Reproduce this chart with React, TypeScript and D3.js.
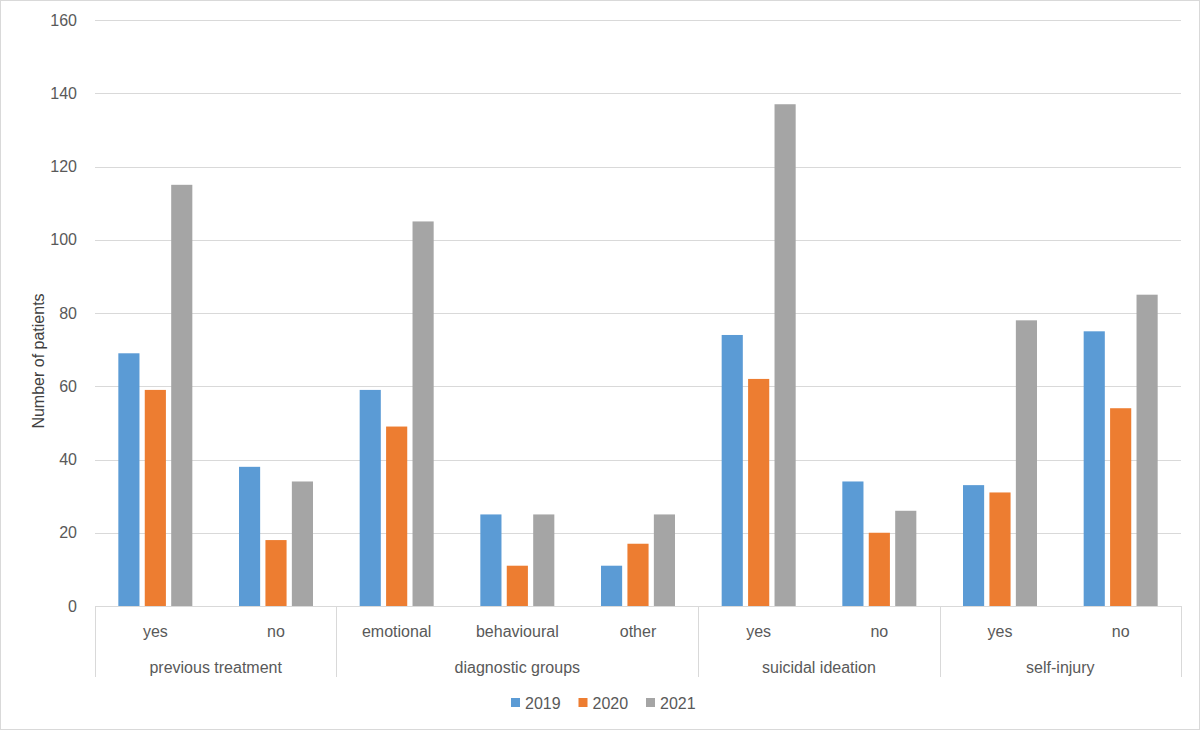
import { useEffect, useRef } from 'react';
import * as d3 from 'd3';

// Data
const groups = ['previous treatment', 'diagnostic groups', 'suicidal ideation', 'self-injury'];
const subcategories = ['yes', 'no', 'emotional', 'behavioural', 'other', 'yes', 'no', 'yes', 'no'];
const subGroupIndex = [0, 0, 1, 1, 1, 2, 2, 3, 3];
const years = ['2019', '2020', '2021'];
const values2019 = [69, 38, 59, 25, 11, 74, 34, 33, 75];
const values2020 = [59, 18, 49, 11, 17, 62, 20, 31, 54];
const values2021 = [115, 34, 105, 25, 25, 137, 26, 78, 85];
const yTicks = [0, 20, 40, 60, 80, 100, 120, 140, 160];

const colors = ['#5B9BD5', '#ED7D31', '#A5A5A5'];
const seriesValues = [values2019, values2020, values2021];

export default function App() {
  const svgRef = useRef<SVGSVGElement>(null);
  const width = 1200;
  const height = 730;

  useEffect(() => {
    if (!svgRef.current) return;
    const svg = d3.select(svgRef.current);
    svg.selectAll('*').remove();

    const font = 'Liberation Sans, Arial, sans-serif';
    const textColor = '#595959';
    const fontSize = 16;
    const margin = { top: 20, left: 95, right: 19, bottom: 124 };
    const plotRight = width - margin.right;
    const plotBottom = height - margin.bottom;

    // outer border
    svg.append('rect')
      .attr('x', 0.5).attr('y', 0.5)
      .attr('width', width - 1).attr('height', height - 1)
      .attr('fill', '#fff')
      .attr('stroke', '#d9d9d9');

    const y = d3.scaleLinear().domain([0, 160]).range([plotBottom, margin.top]);

    const x0 = d3.scaleBand<number>()
      .domain(d3.range(subcategories.length))
      .range([margin.left, plotRight])
      .padding(0);

    const inner = 74;
    const x1 = d3.scaleBand<string>()
      .domain(years)
      .range([(x0.bandwidth() - inner) / 2, (x0.bandwidth() + inner) / 2])
      .paddingInner(0.2);

    // gridlines
    svg.append('g')
      .selectAll('line')
      .data(yTicks.filter(t => t > 0))
      .join('line')
      .attr('x1', margin.left).attr('x2', plotRight)
      .attr('y1', d => Math.round(y(d)) + 0.5).attr('y2', d => Math.round(y(d)) + 0.5)
      .attr('stroke', '#d9d9d9').attr('stroke-width', 1);

    // y tick labels
    svg.append('g')
      .selectAll('text')
      .data(yTicks)
      .join('text')
      .attr('x', 77)
      .attr('y', d => y(d))
      .attr('dy', '0.35em')
      .attr('text-anchor', 'end')
      .attr('font-family', font)
      .attr('font-size', fontSize)
      .attr('fill', textColor)
      .text(d => d);

    // bars
    const barsG = svg.append('g');
    subcategories.forEach((_, i) => {
      years.forEach((yr, s) => {
        const v = seriesValues[s][i];
        barsG.append('rect')
          .attr('x', (x0(i) || 0) + (x1(yr) || 0))
          .attr('y', y(v))
          .attr('width', x1.bandwidth())
          .attr('height', y(0) - y(v))
          .attr('fill', colors[s]);
      });
    });

    // category axis box
    const axisG = svg.append('g');
    const boxBottom = 677;
    axisG.append('line')
      .attr('x1', margin.left).attr('x2', plotRight)
      .attr('y1', plotBottom + 0.5).attr('y2', plotBottom + 0.5)
      .attr('stroke', '#d9d9d9');

    // group boundaries
    const boundaries: number[] = [0];
    subGroupIndex.forEach((g, i) => {
      if (i > 0 && g !== subGroupIndex[i - 1]) boundaries.push(i);
    });
    boundaries.push(subcategories.length);
    boundaries.forEach(b => {
      const bx = b === subcategories.length ? plotRight : (x0(b) || 0);
      axisG.append('line')
        .attr('x1', Math.round(bx) + 0.5).attr('x2', Math.round(bx) + 0.5)
        .attr('y1', plotBottom).attr('y2', boxBottom)
        .attr('stroke', '#d9d9d9');
    });

    axisG.selectAll('text.sub')
      .data(subcategories)
      .join('text')
      .attr('class', 'sub')
      .attr('x', (_, i) => (x0(i) || 0) + x0.bandwidth() / 2)
      .attr('y', 631)
      .attr('dy', '0.35em')
      .attr('text-anchor', 'middle')
      .attr('font-family', font)
      .attr('font-size', fontSize)
      .attr('fill', textColor)
      .text(d => d);

    groups.forEach((gname, gi) => {
      const start = boundaries[gi];
      const end = boundaries[gi + 1];
      const sx = x0(start) || 0;
      const ex = end === subcategories.length ? plotRight : (x0(end) || 0);
      axisG.append('text')
        .attr('x', (sx + ex) / 2)
        .attr('y', 667)
        .attr('dy', '0.35em')
        .attr('text-anchor', 'middle')
        .attr('font-family', font)
        .attr('font-size', fontSize)
        .attr('fill', textColor)
        .text(gname);
    });

    // y axis title
    svg.append('text')
      .attr('transform', `translate(38,361) rotate(-90)`)
      .attr('text-anchor', 'middle')
      .attr('dy', '0.35em')
      .attr('font-family', font)
      .attr('font-size', fontSize)
      .attr('fill', '#404040')
      .text('Number of patients');

    // legend
    const legend = svg.append('g');
    years.forEach((yr, i) => {
      const lx = 511 + i * 67.5;
      legend.append('rect')
        .attr('x', lx).attr('y', 698)
        .attr('width', 9).attr('height', 9)
        .attr('fill', colors[i]);
      legend.append('text')
        .attr('x', lx + 14)
        .attr('y', 703)
        .attr('dy', '0.35em')
        .attr('font-family', font)
        .attr('font-size', fontSize)
        .attr('fill', textColor)
        .text(yr);
    });
  }, []);

  return (
    <div style={{ position: 'fixed', left: 0, top: 0 }}>
      <svg ref={svgRef} width={width} height={height} style={{ display: 'block' }} />
    </div>
  );
}
